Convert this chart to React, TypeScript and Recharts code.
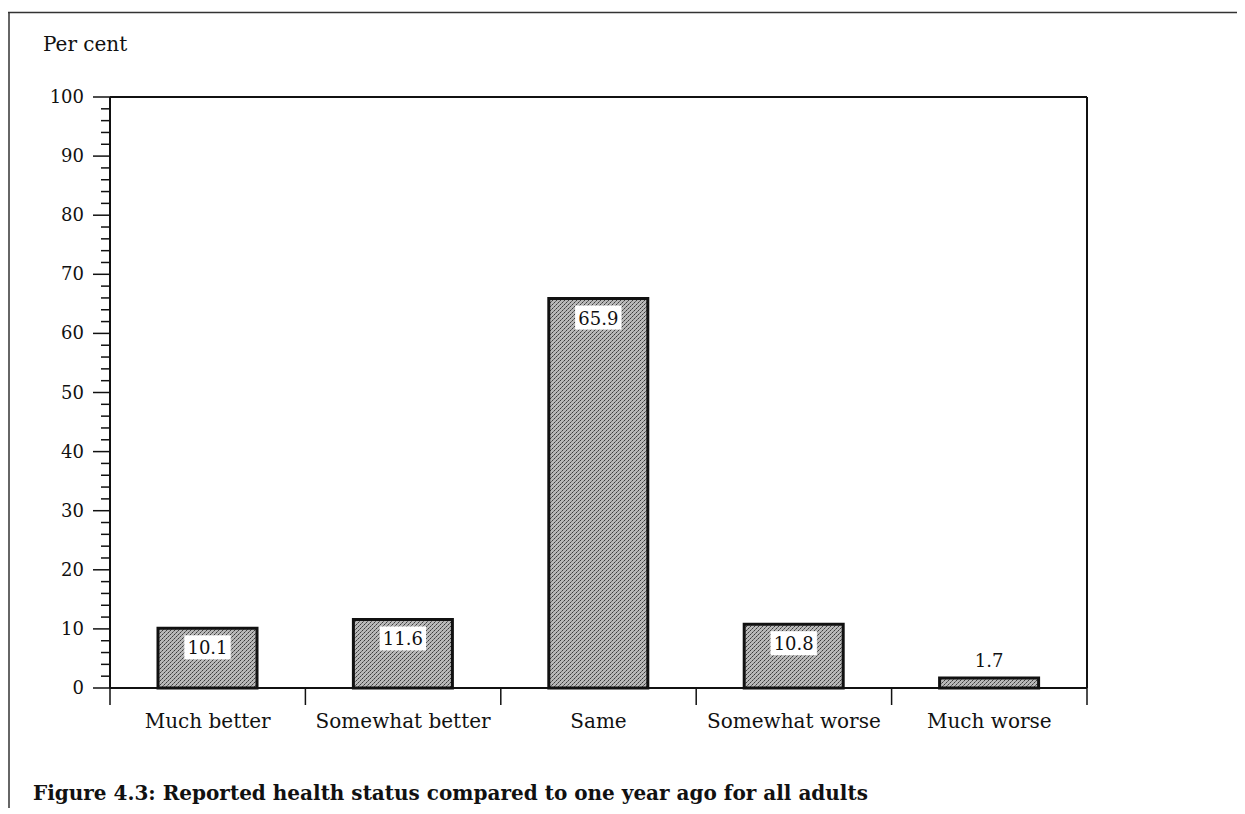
import React from 'react';
import { BarChart, Bar, XAxis, YAxis, ReferenceLine, LabelList } from 'recharts';

const categories = ['Much better', 'Somewhat better', 'Same', 'Somewhat worse', 'Much worse'];
const values = [10.1, 11.6, 65.9, 10.8, 1.7];
const majorTicks = [0, 10, 20, 30, 40, 50, 60, 70, 80, 90, 100];
const allTicks = [0, 2, 4, 6, 8, 10, 12, 14, 16, 18, 20, 22, 24, 26, 28, 30, 32, 34, 36, 38, 40, 42, 44, 46, 48, 50, 52, 54, 56, 58, 60, 62, 64, 66, 68, 70, 72, 74, 76, 78, 80, 82, 84, 86, 88, 90, 92, 94, 96, 98, 100];
const yAxisTitle = 'Per cent';
const figureTitle = 'Figure 4.3: Reported health status compared to one year ago for all adults';

const data = categories.map((c, i) => ({ name: c, value: values[i] }));

const FONT = '"DejaVu Serif", serif';
const W = 1237;
const H = 806;
const M = { top: 89, right: 156, bottom: 86, left: 42 };
const PLOT_W = W - M.left - M.right - 2 - 60;

const YTick = (props: any) => {
  const { x, y, payload } = props;
  const v = payload.value;
  const major = majorTicks.includes(v);
  return (
    <g>
      <line x1={x - (major ? 17 : 9)} x2={x} y1={y} y2={y} stroke="#111" strokeWidth={1.5} />
      {major && (
        <text x={x - 26} y={y + 6} textAnchor="end" fontFamily={FONT} fontSize={18} fill="#111">
          {v}
        </text>
      )}
    </g>
  );
};

const XTick = (props: any) => {
  const { x, y, payload, index } = props;
  const off = payload && payload.offset ? payload.offset : PLOT_W / categories.length / 2;
  return (
    <g>
      <line x1={x - off} x2={x - off} y1={y} y2={y + 17} stroke="#111" strokeWidth={1.5} />
      {index === categories.length - 1 && (
        <line x1={x + off} x2={x + off} y1={y} y2={y + 17} stroke="#111" strokeWidth={1.5} />
      )}
      <text x={x} y={y + 40} textAnchor="middle" fontFamily={FONT} fontSize={20} fill="#111">
        {payload.value}
      </text>
    </g>
  );
};

const ValueLabel = (props: any) => {
  const { x, y, width, value } = props;
  const cx = x + width / 2;
  const txt = String(value);
  if (value < 5) {
    return (
      <text x={cx} y={y - 11} textAnchor="middle" fontFamily={FONT} fontSize={18} fill="#111">
        {txt}
      </text>
    );
  }
  const bw = txt.length * 10.6 + 4;
  return (
    <g>
      <rect x={cx - bw / 2} y={y + 7} width={bw} height={24} fill="#fff" />
      <text x={cx} y={y + 26} textAnchor="middle" fontFamily={FONT} fontSize={18} fill="#111">
        {txt}
      </text>
    </g>
  );
};

export default function App() {
  return (
    <div style={{ position: 'relative', width: W, height: H, background: '#fff' }}>
      <div style={{ position: 'absolute', left: 0, top: 0 }}>
        <BarChart width={W} height={H} data={data} margin={M}>
          <defs>
            <pattern id="stipple" patternUnits="userSpaceOnUse" width={4} height={4}>
              <rect x={0} y={0} width={4} height={4} fill="#b8b8b8" />
              <rect x={0} y={0} width={1} height={1} fill="#3c3c3c" />
              <rect x={2} y={2} width={1} height={1} fill="#3c3c3c" />
              <rect x={1} y={3} width={1} height={1} fill="#6a6a6a" />
              <rect x={3} y={1} width={1} height={1} fill="#6a6a6a" />
            </pattern>
          </defs>
          <XAxis
            dataKey="name"
            interval={0}
            height={40}
            tickLine={false}
            tickSize={0}
            tickMargin={0}
            axisLine={{ stroke: '#111', strokeWidth: 2 }}
            tick={(p: any) => <XTick {...p} />}
          />
          <YAxis
            type="number"
            domain={[0, 100]}
            ticks={allTicks}
            interval={0}
            width={60}
            tickLine={false}
            tickSize={0}
            tickMargin={0}
            axisLine={{ stroke: '#111', strokeWidth: 2 }}
            tick={(p: any) => <YTick {...p} />}
          />
          <YAxis
            yAxisId="right"
            orientation="right"
            type="number"
            domain={[0, 100]}
            width={2}
            tick={false}
            tickLine={false}
            axisLine={{ stroke: '#111', strokeWidth: 2 }}
          />
          <ReferenceLine y={100} stroke="#111" strokeWidth={2} />
          <Bar
            dataKey="value"
            barSize={99}
            fill="url(#stipple)"
            stroke="#111"
            strokeWidth={3}
            isAnimationActive={false}
          >
            <LabelList dataKey="value" content={(p: any) => <ValueLabel {...p} />} />
          </Bar>
        </BarChart>
      </div>
      <svg
        width={W}
        height={H}
        style={{ position: 'absolute', left: 0, top: 0, pointerEvents: 'none' }}
      >
        <line x1={0} x2={W} y1={4.5} y2={4.5} stroke="#333" strokeWidth={1.5} />
        <line x1={1} x2={1} y1={4} y2={800} stroke="#333" strokeWidth={1.5} />
        <text x={35} y={43} fontFamily={FONT} fontSize={20} fill="#111">
          {yAxisTitle}
        </text>
        <text x={25} y={792} fontFamily={FONT} fontSize={20} fontWeight="bold" fill="#111">
          {figureTitle}
        </text>
      </svg>
    </div>
  );
}
